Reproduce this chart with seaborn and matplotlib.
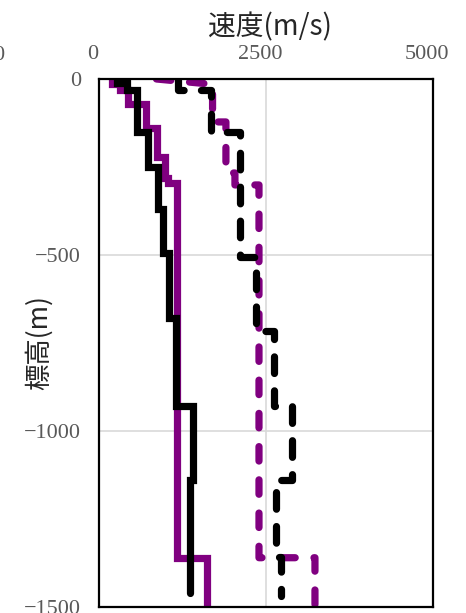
import numpy as np
import pandas as pd
import seaborn as sns
from matplotlib import pyplot as plt
from matplotlib.transforms import ScaledTranslation

# %% Data (velocity m/s, elevation m) read from the reference profiles

# black solid profile
BlackSolidV = [270, 270, 420, 420, 570, 570, 735, 735, 885, 885, 960, 960,
               1050, 1050, 1150, 1150, 1410, 1410, 1360, 1360]
BlackSolidZ = [0, -10, -10, -30, -30, -150, -150, -250, -250, -370, -370, -495,
               -495, -680, -680, -930, -930, -1140, -1140, -1460]

# purple solid profile
PurpleSolidV = [195, 195, 315, 315, 435, 435, 705, 705, 870, 870, 990, 990,
                1035, 1035, 1170, 1170, 1615, 1615]
PurpleSolidZ = [0, -14, -14, -31, -31, -71, -71, -139, -139, -222, -222, -281,
                -281, -295, -295, -1360, -1360, -1600]

# black dashed profile
BlackDashV = [1180, 1180, 1680, 1680, 2110, 2110, 2350, 2350, 2620, 2620,
              2890, 2890, 2650, 2650, 2730, 2730]
BlackDashZ = [0, -31, -31, -150, -150, -505, -505, -715, -715, -930,
              -930, -1140, -1140, -1357, -1357, -1470]

# purple dashed profile
PurpleDashV = [860, 1700, 1700, 1900, 1900, 2035, 2035, 2395, 2395, 3233, 3233]
PurpleDashZ = [0, -15, -122, -122, -267, -267, -301, -301, -1360, -1360, -1600]

XTicks = [0, 2500, 5000]
YTicks = [0, -500, -1000, -1500]

# %% Plot

sns.set_style('white')
plt.rcParams['font.family'] = ['Noto Sans CJK JP', 'DejaVu Sans']

fig = plt.figure(figsize=(4.66, 6.13), dpi=100)
ax = fig.add_axes([99 / 466, 1 - 607 / 613, 334 / 466, 528 / 613])

Purple = '#800080'
LW = 5.2

sns.lineplot(x=PurpleSolidV, y=PurpleSolidZ, sort=False, estimator=None,
             color=Purple, lw=LW, ax=ax,
             solid_capstyle='round', solid_joinstyle='miter')
sns.lineplot(x=PurpleDashV, y=PurpleDashZ, sort=False, estimator=None,
             color=Purple, lw=LW, ax=ax, linestyle=(0, (2.0, 2.6)),
             dash_capstyle='round', dash_joinstyle='round')
sns.lineplot(x=BlackSolidV, y=BlackSolidZ, sort=False, estimator=None,
             color='black', lw=LW, ax=ax,
             solid_capstyle='round', solid_joinstyle='miter')
sns.lineplot(x=BlackDashV, y=BlackDashZ, sort=False, estimator=None,
             color='black', lw=LW, ax=ax, linestyle=(0, (2.3, 2.4)),
             dash_capstyle='round', dash_joinstyle='round')

ax.set_xlim(0, 5000)
ax.set_ylim(-1500, 0)
ax.set_xticks(XTicks)
ax.set_yticks(YTicks)
ax.grid(True, color='#d9d9d9', lw=1.2)
ax.set_axisbelow(True)

ax.xaxis.tick_top()
ax.xaxis.set_label_position('top')
ax.tick_params(length=0, labelsize=16, labelcolor='#595959')
ax.tick_params(axis='x', pad=11)
ax.tick_params(axis='y', pad=13)
for lab in ax.get_xticklabels() + ax.get_yticklabels():
    lab.set_fontfamily(['Liberation Serif', 'DejaVu Serif'])
for lab in ax.get_xticklabels():
    lab.set_transform(lab.get_transform() + ScaledTranslation(-6 / 100, 0, fig.dpi_scale_trans))

for sp in ax.spines.values():
    sp.set_visible(True)
    sp.set_color('black')
    sp.set_linewidth(1.6)

ax.set_xlabel('速度(m/s)', fontsize=20, color='#262626')
ax.xaxis.set_label_coords(0.512, 1.083)
ax.set_ylabel('標高(m)', fontsize=19, color='#262626')
ax.yaxis.set_label_coords(-0.138, 0.5)

# partial label of neighbouring chart at left edge
fig.text(4 / 466, 1 - 56 / 613, '0', ha='right', va='center', fontsize=16,
         color='#595959', family=['Liberation Serif', 'DejaVu Serif'])

fig.savefig('out.png', dpi=100)
